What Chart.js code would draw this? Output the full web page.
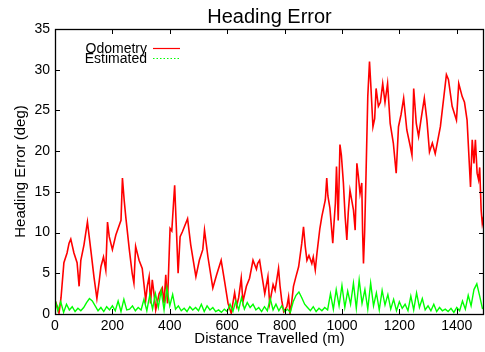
<!DOCTYPE html>
<html>
<head>
<meta charset="utf-8">
<script src="https://cdn.jsdelivr.net/npm/chart.js@4/dist/chart.umd.min.js"></script>
<style>
html,body{margin:0;padding:0;background:#fff;}
#wrap{width:485px;height:352px;}
</style>
</head>
<body>
<div id="wrap"><canvas id="c" width="485" height="352"></canvas></div>
<script>
const chartTitle = "Heading Error";
const xTitle = "Distance Travelled (m)";
const yTitle = "Heading Error (deg)";
const seriesNames = ["Odometry", "Estimated"];
const xTicks = [0, 200, 400, 600, 800, 1000, 1200, 1400];
const yTicks = [0, 5, 10, 15, 20, 25, 30, 35];
const xMax = 1495;
const yMax = 35;

const odoDist = [0,7,14,21,31,42,49,55,66,77,84,90,101,113,126,136,146,154,160,169,177,183,189,200,212,230,235,241,247,259,269,275,281,293,304,316,322,328,333,339,345,351,363,374,380,386,392,398,401,407,413,417,423,429,436,444,462,473,491,503,515,521,533,550,563,579,591,603,614,626,633,640,649,655,667,678,690,702,706,713,719,731,742,748,760,767,779,784,790,797,808,814,819,825,831,839,849,860,866,872,878,885,895,900,907,913,923,930,942,947,951,958,968,972,977,981,987,993,998,1005,1011,1017,1022,1028,1040,1046,1052,1057,1063,1069,1072,1075,1079,1084,1090,1096,1100,1108,1114,1119,1127,1134,1142,1150,1159,1168,1179,1189,1197,1206,1215,1226,1238,1244,1250,1259,1267,1276,1287,1296,1305,1315,1325,1343,1364,1371,1384,1399,1407,1419,1427,1436,1448,1454,1460,1465,1471,1476,1480,1485,1489,1494];
const odoErr = [1.7,1.0,0.1,2.0,6.3,7.5,8.7,9.2,7.5,6.3,3.4,6.6,8.5,11.3,7.5,4.5,1.9,4.0,5.8,7.0,5.4,11.3,9.5,7.9,9.7,11.5,16.7,14.0,11.8,7.9,5.0,3.8,8.3,6.6,5.6,1.7,3.5,4.6,1.3,4.2,2.5,0.5,2.5,3.2,1.3,4.8,1.3,7.5,10.5,10.2,13.6,15.8,10.5,5.0,9.5,10.1,11.7,8.5,4.6,6.6,7.9,10.3,7.0,3.2,4.8,6.6,4.0,1.3,0.1,2.6,1.0,2.0,4.4,1.5,3.4,4.4,6.6,5.5,6.2,6.6,5.2,2.5,4.6,1.3,3.6,2.9,5.6,3.5,1.7,0.3,0.9,2.1,0.1,1.5,3.4,4.5,5.8,8.7,10.7,8.3,6.6,7.2,6.2,7.0,5.4,7.5,10.5,12.0,14.0,16.7,14.5,13.0,8.7,11.0,13.6,18.1,11.5,20.8,19.5,16.1,12.0,9.1,12.5,15.2,12.8,10.3,18.5,17.0,14.8,16.1,10.0,6.2,10.0,17.3,26.7,31.0,28.5,23.0,24.0,27.7,25.5,26.0,28.3,26.0,28.3,23.4,21.0,17.3,23.0,24.5,26.5,22.6,20.6,19.5,27.7,23.4,21.8,24.0,26.5,23.8,19.9,21.0,19.7,23.0,29.4,28.8,25.5,23.8,28.3,26.7,26.0,23.8,15.6,21.4,18.5,21.4,17.3,16.5,18.0,12.8,11.1,12.0];

const estDist = [0,10,20,30,40,50,60,70,80,90,100,110,120,130,140,150,160,170,180,190,200,210,220,230,240,250,260,270,280,290,300,310,320,330,340,350,360,370,380,390,400,410,420,430,440,450,460,470,480,490,500,510,520,530,540,550,560,570,580,590,600,610,620,630,640,650,660,670,680,690,700,710,720,730,740,750,760,770,780,790,800,810,820,830,840,850,860,870,880,890,900,910,920,930,940,950,960,970,980,990,1000,1010,1020,1030,1040,1050,1060,1070,1080,1090,1100,1110,1120,1130,1140,1150,1160,1170,1180,1190,1200,1210,1220,1230,1240,1250,1260,1270,1280,1290,1300,1310,1320,1330,1340,1350,1360,1370,1380,1390,1400,1410,1420,1430,1440,1450,1460,1470,1480,1490];
const estErr = [1.8,0.4,1.5,0.2,1.2,
0.5,0.9,0.3,0.7,0.4,0.8,
1.4,1.9,1.6,1.0,
0.4,0.8,0.3,0.9,0.5,1.0,0.4,
1.6,0.3,1.8,0.5,
0.6,1.0,0.4,0.8,0.5,
1.8,0.4,2.3,0.6,2.5,0.8,2.9,0.5,3.2,1.0,2.4,0.6,
1.0,0.4,0.7,0.3,0.9,0.5,0.8,
0.4,1.2,0.3,1.0,0.5,0.8,0.3,
0.5,0.2,0.6,0.3,
1.2,0.3,1.6,0.5,2.0,0.6,
1.4,0.8,1.2,0.5,
0.8,0.3,0.9,0.4,
1.9,0.5,1.2,0.4,1.0,
0.3,0.6,0.2,
1.5,2.3,2.7,2.0,1.2,
0.8,0.4,0.9,0.3,0.7,0.4,0.8,0.5,
2.5,0.6,3.0,1.0,3.5,0.8,2.8,1.2,3.8,0.7,4.2,1.3,3.0,0.6,3.8,1.0,2.6,0.5,2.9,1.1,
2.4,0.6,1.8,0.4,1.5,0.7,1.2,0.4,
2.2,0.5,2.6,0.8,1.9,0.5,
1.0,0.4,1.2,0.3,0.8,0.4,0.6,
0.3,0.7,0.2,0.8,0.4,
1.6,0.6,2.3,1.0,3.0,3.7,2.2,0.6];

const FONT = "'Liberation Sans', Arial, Helvetica, sans-serif";
const RED = '#ff0000';
const GREEN = '#00ff00';

const odoData = odoDist.map((d, i) => ({x: d, y: odoErr[i]}));
const estData = estDist.map((d, i) => ({x: d, y: estErr[i]}));

const decorPlugin = {
  id: 'decor',
  afterDatasetsDraw(chart) {
    const {ctx, chartArea: a, scales: {x, y}} = chart;
    ctx.save();
    ctx.strokeStyle = '#000';
    ctx.lineWidth = 1;
    const line = (x1, y1, x2, y2) => { ctx.beginPath(); ctx.moveTo(x1, y1); ctx.lineTo(x2, y2); ctx.stroke(); };
    const tl = 5;
    xTicks.forEach(v => {
      const px = Math.round(x.getPixelForValue(v)) + 0.5;
      line(px, a.bottom, px, a.bottom - tl);
      line(px, a.top, px, a.top + tl);
    });
    yTicks.forEach(v => {
      const py = Math.round(y.getPixelForValue(v)) + 0.5;
      line(a.left, py, a.left + tl, py);
      line(a.right, py, a.right - tl, py);
    });
    ctx.lineWidth = 1.3;
    ctx.strokeRect(Math.round(a.left) + 0.5, Math.round(a.top) + 0.5, Math.round(a.right - a.left) - 1, Math.round(a.bottom - a.top));
    // title
    ctx.fillStyle = '#000';
    ctx.font = '20px ' + FONT;
    ctx.textAlign = 'center';
    ctx.textBaseline = 'alphabetic';
    ctx.fillText(chartTitle, (a.left + a.right) / 2, 23);
    // legend
    ctx.font = '14px ' + FONT;
    ctx.textAlign = 'right';
    ctx.fillText(seriesNames[0], 147, 53);
    ctx.fillText(seriesNames[1], 147, 63);
    ctx.lineWidth = 1.2;
    ctx.strokeStyle = RED;
    line(153, 48.5, 180, 48.5);
    ctx.strokeStyle = GREEN;
    ctx.setLineDash([1.5, 2]);
    line(153, 58.5, 180, 58.5);
    ctx.restore();
  }
};

new Chart(document.getElementById('c'), {
  type: 'line',
  data: {
    datasets: [
      {label: seriesNames[1], data: estData, borderColor: GREEN, borderWidth: 1.4, pointRadius: 0, tension: 0, order: 0},
      {label: seriesNames[0], data: odoData, borderColor: RED, borderWidth: 1.6, pointRadius: 0, tension: 0, order: 1}
    ]
  },
  options: {
    responsive: false,
    animation: false,
    devicePixelRatio: 1,
    layout: {padding: {top: 29, right: 1, left: 0, bottom: 0}},
    plugins: {legend: {display: false}, tooltip: {enabled: false}, title: {display: false}},
    scales: {
      x: {
        type: 'linear', min: 0, max: xMax,
        grid: {display: false, drawTicks: false},
        border: {display: false},
        afterBuildTicks: s => { s.ticks = xTicks.map(v => ({value: v})); },
        afterFit: s => { s.height = 38; },
        ticks: {color: '#000', font: {family: FONT, size: 14}, padding: 4, maxRotation: 0, autoSkip: false, callback: v => String(v)},
        title: {display: true, text: xTitle, color: '#000', font: {family: FONT, size: 15}, padding: {top: 0, bottom: 4}}
      },
      y: {
        type: 'linear', min: 0, max: yMax,
        grid: {display: false, drawTicks: false},
        border: {display: false},
        afterBuildTicks: s => { s.ticks = yTicks.map(v => ({value: v})); },
        afterFit: s => { s.width = 55; },
        ticks: {color: '#000', font: {family: FONT, size: 14}, padding: 5, autoSkip: false, callback: v => String(v)},
        title: {display: true, text: yTitle, color: '#000', font: {family: FONT, size: 15}, padding: {top: 12, bottom: 0}}
      }
    }
  },
  plugins: [decorPlugin]
});
</script>
</body>
</html>
